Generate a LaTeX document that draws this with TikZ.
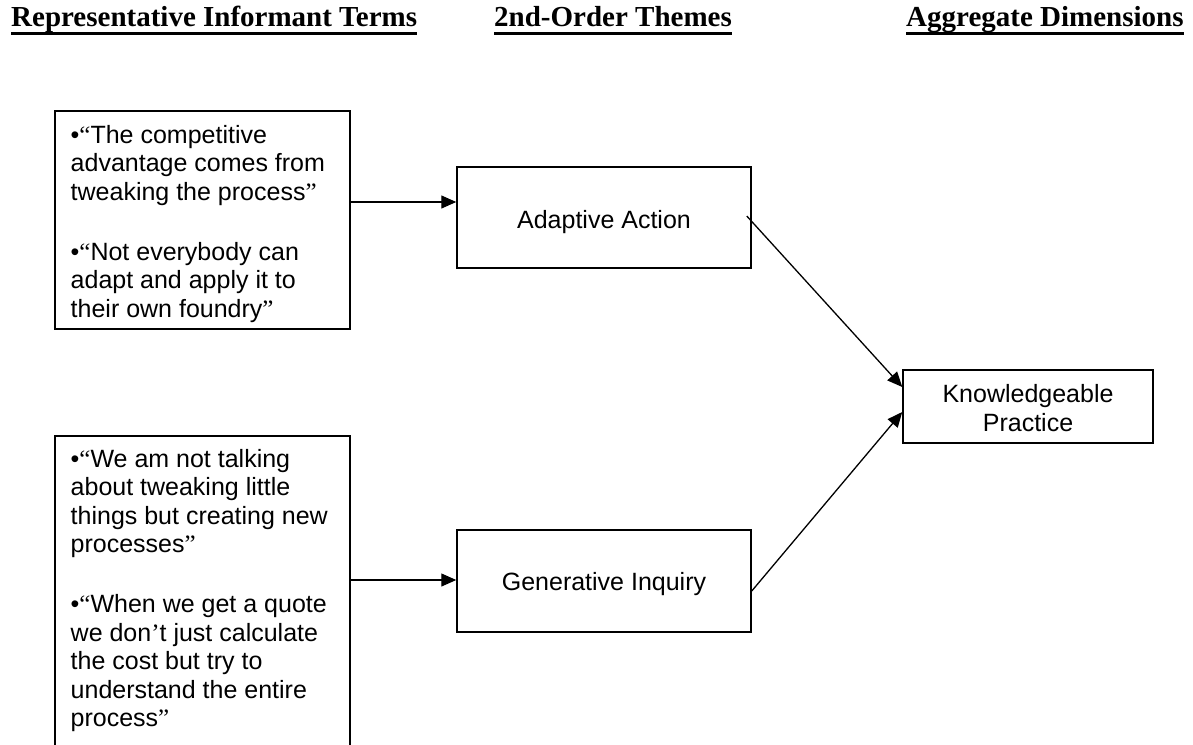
\documentclass[tikz,border=0pt]{standalone}
\usepackage{fontspec}
\setmainfont{Liberation Sans}
\newfontfamily\headfont{Liberation Serif}
\newfontfamily\qfont{Liberation Serif}
\usetikzlibrary{arrows.meta}
% typographic quote marks taken from the serif face
\newcommand\oq{{\qfont “}}
\newcommand\cq{{\qfont ”}}
\newcommand\ap{{\qfont ’}}

\begin{document}
\begin{tikzpicture}[x=1pt,y=-1pt,
  cell/.style={draw, line width=1.5pt, rectangle, inner sep=0pt},
  saying/.style={anchor=north west, inner sep=0pt, align=left,
    font=\fontsize{25}{28.4}\selectfont},
  tag/.style={inner sep=0pt, align=center, font=\fontsize{25}{29}\selectfont},
  colhead/.style={anchor=base west, inner sep=0pt,
    font=\headfont\bfseries\fontsize{29}{34}\selectfont},
  rule/.style={line width=2.6pt},
  conn/.style={line width=1.3pt, -{Triangle[length=15pt,width=13pt]}},
]
\useasboundingbox (0,0) rectangle (1193,744);
\clip (0,0) rectangle (1193,744);

% column headings
\node[colhead] (h1) at (11,27) {Representative Informant Terms};
\node[colhead] (h2) at (494,27) {2nd-Order Themes};
\node[colhead] (h3) at (906,27) {Aggregate Dimensions};
\foreach \h in {h1,h2,h3}
  \draw[rule] ([yshift=-6.5pt]\h.base west) -- ([yshift=-6.5pt]\h.base east);

% boxes
\node[cell, minimum width=295pt, minimum height=218pt] (q1) at (202.5,220) {};
\node[cell, minimum width=295pt, minimum height=334pt] (q2) at (202.5,603) {};
\node[cell, minimum width=294pt, minimum height=101pt] (aa) at (604,217.5) {};
\node[cell, minimum width=294pt, minimum height=102pt] (gi) at (604,581) {};
\node[cell, minimum width=250pt, minimum height=73pt] (kp) at (1028,406.5) {};

% informant quotes
\node[saying] (t1) at (70.5,125) {•\oq The competitive\\
  advantage comes from\\
  tweaking the process\cq\\[32pt]
  •\oq Not everybody can\\
  adapt and apply it to\\
  their own foundry\cq};
\node[saying] (t2) at (70.5,449) {•\oq We am not talking\\
  about tweaking little\\
  things but creating new\\
  processes\cq\\[32pt]
  •\oq When we get a quote\\
  we don\ap t just calculate\\
  the cost but try to\\
  understand the entire\\
  process\cq};

% theme and dimension labels
\node[tag, anchor=base] (la) at (604,228) {Adaptive Action};
\node[tag, anchor=base] (lg) at (604,590) {Generative Inquiry};
\node[tag, anchor=north] (lk) at (1028,384) {Knowledgeable\\Practice};

% connectors
\draw[conn] ([yshift=18pt]q1.east) -- ([yshift=15.5pt]aa.west);
\draw[conn] ([yshift=23pt]q2.east) -- ([yshift=1pt]gi.west);
\draw[conn] ([xshift=-5pt,yshift=1.5pt]aa.east) -- ([yshift=19.5pt]kp.west);
\draw[conn] ([yshift=-10pt]gi.east) -- ([yshift=-5.5pt]kp.west);
\end{tikzpicture}
\end{document}
